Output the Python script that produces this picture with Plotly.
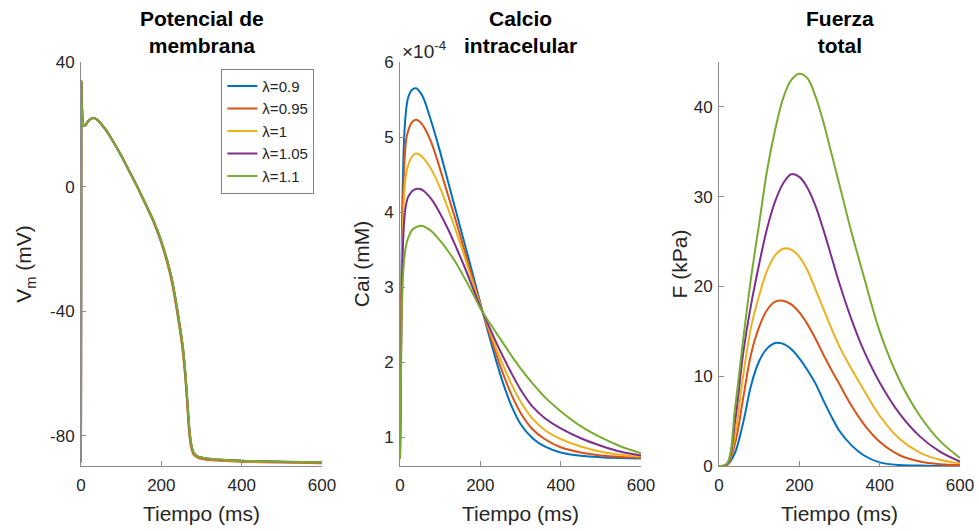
import plotly.graph_objects as go
from plotly.subplots import make_subplots

# ---- data ----
lambdas = ["λ=0.9", "λ=0.95", "λ=1", "λ=1.05", "λ=1.1"]
colors = ["#0072BD", "#D95319", "#EDB120", "#7E2F8E", "#77AC30"]

# membrane potential (mV)
t_vm = [0, 0.5, 1, 2, 4, 6, 10, 15, 20, 30, 40, 60, 80, 100, 120, 140, 160, 180, 200,
        220, 230, 240, 250, 255, 260, 265, 270, 275, 280, 290, 300, 320, 400, 500, 600]
vm_09 = [-88.5, -20, 34, 28, 21, 19.5, 19.6, 20.5, 21.3, 22, 21.5, 18.5, 14.5, 10, 5, 0, -5.4, -10.9, -17.8,
         -26.5, -32.5, -40, -48.5, -54, -61, -70, -79, -83.5, -85.5, -86.8, -87.2, -87.6, -88.1, -88.4, -88.6]
vm_095 = [-88.5, -20, 34, 28, 21, 19.5, 19.6, 20.5, 21.3, 22, 21.5, 18.5, 14.5, 10, 5, -0.1, -5.6, -11.2, -18.2,
          -27.2, -33.3, -41, -49.5, -55, -62, -71, -80, -84.2, -86, -87, -87.4, -87.8, -88.3, -88.6, -88.8]
vm_1 = [-88.5, -20, 34, 28, 21, 19.5, 19.6, 20.5, 21.3, 22, 21.5, 18.5, 14.5, 10, 5, 0, -5.4, -10.9, -17.8,
        -26.5, -32.5, -40, -48.5, -53.5, -60.5, -69.5, -78.5, -83.3, -85.5, -86.7, -87.1, -87.5, -88.1, -88.4, -88.6]
vm_105 = [-88.5, -20, 34, 28, 21, 19.5, 19.6, 20.5, 21.3, 22, 21.5, 18.5, 14.5, 10, 5, 0, -5.3, -10.8, -17.6,
          -26.3, -32.2, -39.7, -48, -53, -60, -69, -78, -83, -85.3, -86.6, -87, -87.4, -88, -88.3, -88.5]
vm_11 = [-88.5, -20, 34, 28, 21, 19.5, 19.6, 20.5, 21.3, 22, 21.5, 18.5, 14.5, 10, 5, 0, -5.3, -10.7, -17.5,
         -26.2, -32, -39.5, -47.8, -52.8, -59.7, -68.7, -77.7, -82.8, -85.2, -86.6, -87, -87.4, -88, -88.3, -88.5]

# intracellular calcium (x1e-4 mM)
t_ca = [0, 2, 5, 10, 15, 20, 30, 40, 50, 60, 80, 100, 120, 140, 160, 180, 200,
        220, 240, 260, 280, 300, 330, 360, 400, 450, 500, 550, 600]
ca_09 = [0.72, 2.0, 3.8, 4.95, 5.35, 5.52, 5.63, 5.65, 5.6, 5.5, 5.17, 4.8, 4.4, 4.0, 3.6, 3.2, 2.79,
         2.39, 2.01, 1.67, 1.39, 1.18, 0.99, 0.88, 0.8, 0.755, 0.735, 0.725, 0.72]
ca_095 = [0.72, 1.9, 3.5, 4.55, 4.95, 5.08, 5.2, 5.23, 5.2, 5.13, 4.9, 4.57, 4.22, 3.87, 3.5, 3.13, 2.77,
          2.43, 2.1, 1.8, 1.54, 1.33, 1.11, 0.98, 0.87, 0.8, 0.76, 0.74, 0.73]
ca_1 = [0.72, 1.8, 3.3, 4.2, 4.5, 4.62, 4.74, 4.78, 4.76, 4.71, 4.55, 4.32, 4.04, 3.74, 3.42, 3.08, 2.76,
        2.47, 2.18, 1.92, 1.68, 1.48, 1.25, 1.1, 0.98, 0.88, 0.81, 0.77, 0.745]
ca_105 = [0.72, 1.7, 3.1, 3.85, 4.1, 4.2, 4.28, 4.31, 4.31, 4.28, 4.16, 3.98, 3.77, 3.53, 3.28, 3.01, 2.74,
          2.5, 2.26, 2.04, 1.83, 1.64, 1.41, 1.26, 1.12, 0.99, 0.89, 0.81, 0.76]
ca_11 = [0.72, 1.6, 2.8, 3.35, 3.55, 3.65, 3.76, 3.8, 3.82, 3.81, 3.74, 3.62, 3.48, 3.32, 3.13, 2.93, 2.72,
         2.55, 2.39, 2.23, 2.07, 1.92, 1.72, 1.54, 1.35, 1.15, 1.0, 0.88, 0.79]

# total force (kPa)
t_f = [0, 20, 40, 60, 80, 100, 120, 140, 160, 180, 200, 220, 240, 260, 280, 300,
       330, 360, 400, 450, 500, 550, 600]
f_09 = [0, 0.1, 1.5, 4.8, 9.0, 11.7, 13.1, 13.7, 13.6, 13.0, 12.0, 10.7, 9.2, 7.3, 5.5, 3.9,
        2.3, 1.2, 0.4, 0.1, 0.05, 0, 0]
f_095 = [0, 0.1, 2.5, 7.5, 12.5, 15.5, 17.4, 18.3, 18.4, 18.0, 17.1, 15.8, 14.2, 12.4, 10.7, 9.1,
         6.7, 4.7, 2.7, 1.2, 0.5, 0.2, 0.1]
f_1 = [0, 0.1, 3.5, 10.0, 15.5, 19.0, 21.8, 23.5, 24.2, 24.1, 23.3, 21.8, 19.7, 17.5, 15.3, 13.3,
       10.8, 8.5, 5.6, 3.0, 1.5, 0.7, 0.3]
f_105 = [0, 0.2, 5.0, 12.5, 18.0, 22.5, 26.5, 29.5, 31.5, 32.5, 32.2, 31.0, 29.0, 26.3, 23.3, 20.3,
         16.3, 12.9, 9.3, 5.8, 3.3, 1.6, 0.5]
f_11 = [0, 0.3, 6.5, 14.0, 21.0, 27.0, 33.0, 37.5, 41.0, 43.0, 43.7, 43.2, 41.2, 38.3, 34.8, 31.3,
        26.0, 21.2, 15.0, 9.5, 5.6, 2.8, 0.9]

vm_ticks = [-80, -40, 0, 40]
vm_ticktext = ["-80", "-40", "0", "40"]

vm_all = [vm_09, vm_095, vm_1, vm_105, vm_11]
ca_all = [ca_09, ca_095, ca_1, ca_105, ca_11]
f_all = [f_09, f_095, f_1, f_105, f_11]

FONT = "Liberation Sans, Arial, sans-serif"
AX = "#8c8c8c"
TXT = "#262626"

fig = make_subplots(rows=1, cols=3, horizontal_spacing=78 / 879)

for i in range(5):
    fig.add_trace(go.Scatter(x=t_vm, y=vm_all[i], mode="lines", name=lambdas[i],
                             line=dict(color=colors[i], width=2, shape="spline", smoothing=0.6),
                             legendgroup=lambdas[i]), row=1, col=1)
for i in range(5):
    fig.add_trace(go.Scatter(x=t_ca, y=ca_all[i], mode="lines", name=lambdas[i], showlegend=False,
                             line=dict(color=colors[i], width=2, shape="spline", smoothing=0.8),
                             legendgroup=lambdas[i]), row=1, col=2)
for i in range(5):
    fig.add_trace(go.Scatter(x=t_f, y=f_all[i], mode="lines", name=lambdas[i], showlegend=False,
                             line=dict(color=colors[i], width=2, shape="spline", smoothing=1.0),
                             legendgroup=lambdas[i]), row=1, col=3)

axis_style = dict(showline=True, linecolor=AX, linewidth=1, ticks="inside", ticklen=5,
                  tickcolor=AX, showgrid=False, zeroline=False, mirror=False, automargin=False,
                  tickfont=dict(size=17, color=TXT, family=FONT),
                  title_font=dict(size=21, color=TXT, family=FONT))

for c in (1, 2, 3):
    fig.update_xaxes(axis_style, range=[0, 600], tickvals=[0, 200, 400, 600],
                     ticklabelstandoff=4, title_text="Tiempo (ms)", title_standoff=11, row=1, col=c)

fig.update_yaxes(axis_style, range=[-89.7, 40], tickvals=vm_ticks, ticktext=vm_ticktext,
                 ticklabelstandoff=2, title_text="V<sub>m</sub> (mV)", title_standoff=12, row=1, col=1)
fig.update_yaxes(axis_style, range=[0.62, 6], tickvals=[1, 2, 3, 4, 5, 6], ticklabelstandoff=2,
                 title_text="Cai (mM)", title_standoff=8, row=1, col=2)
fig.update_yaxes(axis_style, range=[0, 45], tickvals=[0, 10, 20, 30, 40], ticklabelstandoff=2,
                 title_text="F (kPa)", title_standoff=0, row=1, col=3)

titles = ["Potencial de<br>membrana", "Calcio<br>intracelular", "Fuerza<br>total"]
for k, ttl in enumerate(titles):
    xref = "x domain" if k == 0 else "x%d domain" % (k + 1)
    fig.add_annotation(text="<b>%s</b>" % ttl, xref=xref, yref="paper", x=0.5, y=1.0,
                       yshift=3, xanchor="center", yanchor="bottom", showarrow=False,
                       font=dict(size=21, color="#000000", family=FONT))

fig.add_annotation(text="×10<sup>-4</sup>", xref="x2 domain", yref="paper", x=0.0, y=1.0,
                   xanchor="left", yanchor="bottom", showarrow=False, xshift=0, yshift=-2,
                   font=dict(size=19, color=TXT, family=FONT))

fig.update_layout(
    width=979, height=531,
    margin=dict(l=81, r=19, t=62, b=65),
    paper_bgcolor="white", plot_bgcolor="white",
    font=dict(family=FONT, color=TXT),
    showlegend=True,
    legend=dict(x=0.2655, y=0.983, xanchor="right", yanchor="top",
                bgcolor="white", bordercolor="#7f7f7f", borderwidth=1,
                font=dict(size=15, color=TXT, family=FONT),
                tracegroupgap=0, itemwidth=30),
)

# drop the default page margin so the figure sits at the window's corner
fig.write_html("out.html", config={"displayModeBar": False},
               post_script="document.body.style.margin='0px';")
